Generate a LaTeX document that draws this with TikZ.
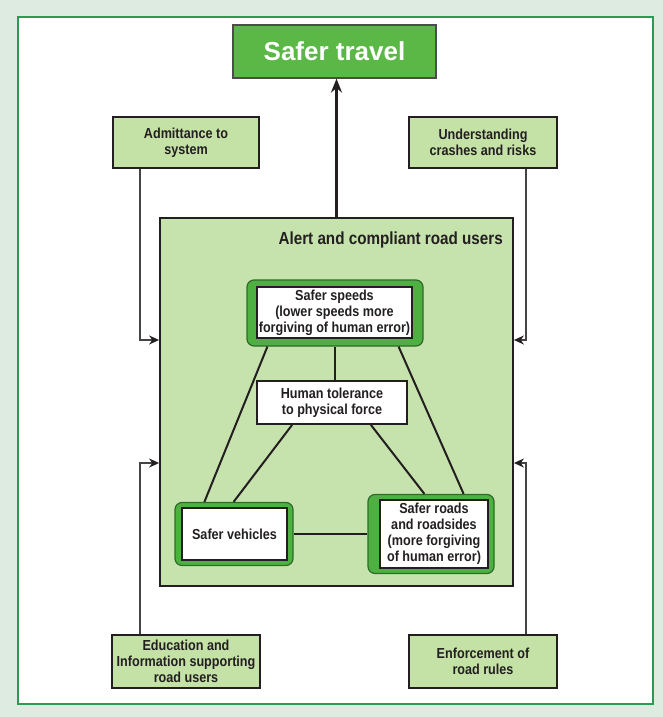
\documentclass[tikz,border=0pt]{standalone}
\usepackage{fontspec}
\setmainfont{Liberation Sans}
\newfontfamily\narrowsans[FakeStretch=0.87]{Liberation Sans}
\usetikzlibrary{arrows.meta,calc}

\definecolor{pagebg}{HTML}{DEEBE0}
\definecolor{framegreen}{HTML}{2A9A55}
\definecolor{palegreen}{HTML}{C4E1A6}
\definecolor{panelgreen}{HTML}{C7E3AD}
\definecolor{brightgreen}{HTML}{5BB847}
\definecolor{rimgreen}{HTML}{4DB041}
\definecolor{rimedge}{HTML}{2F6A2B}
\definecolor{ink}{HTML}{231F20}
\definecolor{wire}{HTML}{444444}

\tikzset{
  infobox/.style={draw=ink, line width=2pt, fill=palegreen, text=ink,
    align=center, inner sep=0pt,
    font=\narrowsans\bfseries\fontsize{14.5}{16}\selectfont},
  rim/.style={draw=rimedge, line width=1.2pt, fill=rimgreen, rounded corners=7pt,
    inner sep=0pt},
  card/.style={draw=ink, line width=1.8pt, fill=white, text=ink, align=center,
    inner sep=0pt, font=\narrowsans\bfseries\fontsize{14.5}{16}\selectfont},
  link/.style={draw=ink, line width=2pt},
  feed/.style={draw=wire, line width=1.8pt,
    -{Stealth[length=10pt,width=9pt,color=ink]}},
}

\begin{document}
\begin{tikzpicture}[x=1pt,y=-1pt]
  % page background and framed panel
  \fill[pagebg] (0,0) rectangle (663,717);
  \useasboundingbox (0,0) rectangle (663,717);
  \draw[framegreen, line width=1.5pt, fill=white] (18,17) rectangle (653,704);

  % goal
  \node[draw=black!70, line width=1.2pt, fill=brightgreen, text=white,
        minimum width=203, minimum height=53, inner sep=0pt,
        font=\bfseries\fontsize{26}{30}\selectfont] (travel) at (334.5,51.5) {Safer travel};

  % supporting measures
  \node[infobox, minimum width=146, minimum height=51] (admit) at (186,142.5) {Admittance to\\system};
  \node[infobox, minimum width=148, minimum height=51] (underst) at (483,142.5) {Understanding\\crashes and risks};
  \node[infobox, minimum width=148, minimum height=53] (edu) at (186,661.5) {Education and\\Information supporting\\road users};
  \node[infobox, minimum width=148, minimum height=53] (enforce) at (483,661.5) {Enforcement of\\road rules};

  % road users panel
  \node[draw=ink, line width=1.8pt, fill=panelgreen, minimum width=353, minimum height=368,
        inner sep=0pt] (users) at (336.5,402) {};
  \node[anchor=base east, text=ink, inner sep=0pt,
        font=\narrowsans\bfseries\fontsize{17.5}{20}\selectfont] (title) at (503,244) {Alert and compliant road users};

  % safe system pillars
  \node[rim, minimum width=176, minimum height=66] (speedsrim) at (335,313) {};
  \node[card, minimum width=155, minimum height=51] (speeds) at (334.5,312.5)
    {Safer speeds\\(lower speeds more\\forgiving of human error)};
  \node[card, minimum width=150, minimum height=43] (tol) at (332,402.5)
    {Human tolerance\\to physical force};
  \node[rim, minimum width=118, minimum height=63] (vehrim) at (234,534) {};
  \node[card, minimum width=105, minimum height=52] (veh) at (234.5,534) {Safer vehicles};
  \node[rim, minimum width=126, minimum height=79] (roadrim) at (431,534) {};
  \node[card, minimum width=108, minimum height=68] (road) at (434,534)
    {Safer roads\\and roadsides\\(more forgiving\\of human error)};

  % links between pillars
  \draw[link] (speedsrim.south) -- (speedsrim.south |- tol.north);
  \draw[link] ([xshift=21pt]speedsrim.south west) -- ([xshift=30pt]vehrim.north west);
  \draw[link] ([xshift=-25pt]speedsrim.south east) -- ([xshift=-31pt]roadrim.north east);
  \draw[link] ([xshift=36pt]tol.south west) -- ([xshift=-60pt]vehrim.north east);
  \draw[link] ([xshift=-37pt]tol.south east) -- ([xshift=57pt]roadrim.north west);
  \draw[link] (vehrim.east) -- (vehrim.east -| roadrim.west);

  % outcome arrow
  \draw[draw=ink, line width=2.2pt, -{Stealth[length=14pt,width=11pt]}]
    (users.north) -- (users.north |- travel.south);

  % inputs feeding the panel
  \coordinate (lu) at (140,340);
  \coordinate (ll) at (140,463);
  \coordinate (ru) at (526,340);
  \coordinate (rl) at (526,463);
  \draw[feed] (admit.south -| lu) -- (lu) -- (lu -| users.west);
  \draw[feed] (edu.north -| ll) -- (ll) -- (ll -| users.west);
  \draw[feed] (underst.south -| ru) -- (ru) -- (ru -| users.east);
  \draw[feed] (enforce.north -| rl) -- (rl) -- (rl -| users.east);
\end{tikzpicture}
\end{document}
